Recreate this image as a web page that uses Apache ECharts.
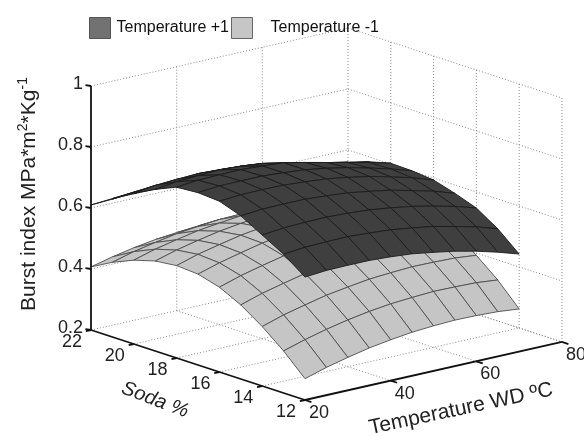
<!DOCTYPE html>
<html><head><meta charset="utf-8">
<style>html,body{margin:0;padding:0;background:#fff}#c{width:584px;height:437px}</style>
<script src="https://cdn.jsdelivr.net/npm/echarts@6/dist/echarts.min.js"></script>
</head><body><div id="c"></div>
<script>
const sodaValues=[22,21,20,19,18,17,16,15,14,13,12];
const tempValues=[20,25,30,35,40,45,50,55,60,65,70];
const tempPlus1=[
[.610,.615,.615,.614,.608,.601,.589,.576,.558,.539,.515],
[.652,.659,.663,.664,.661,.657,.648,.637,.622,.606,.585],
[.695,.704,.708,.711,.708,.704,.697,.682,.665,.652,.638],
[.730,.739,.743,.746,.742,.735,.720,.704,.689,.674,.662],
[.760,.767,.769,.770,.766,.761,.746,.730,.714,.698,.680],
[.765,.771,.772,.772,.767,.761,.750,.736,.719,.700,.678],
[.760,.765,.766,.765,.760,.754,.743,.730,.713,.694,.671],
[.735,.741,.742,.742,.737,.731,.720,.708,.691,.673,.650],
[.695,.702,.705,.706,.703,.698,.689,.678,.663,.646,.625],
[.655,.662,.664,.665,.661,.656,.646,.635,.619,.602,.580],
[.603,.609,.610,.610,.606,.600,.589,.577,.561,.542,.520]];
const tempMinus1=[
[.407,.424,.438,.449,.456,.462,.463,.462,.457,.451,.440],
[.445,.464,.478,.491,.499,.506,.508,.509,.505,.500,.490],
[.475,.495,.510,.524,.533,.541,.544,.546,.543,.539,.530],
[.495,.515,.531,.545,.555,.563,.567,.569,.567,.563,.555],
[.503,.524,.540,.555,.565,.574,.578,.581,.579,.576,.568],
[.498,.519,.536,.552,.563,.572,.577,.580,.580,.577,.570],
[.478,.500,.517,.533,.545,.555,.560,.564,.564,.561,.555],
[.443,.465,.482,.498,.510,.520,.525,.529,.529,.526,.520],
[.395,.417,.434,.450,.461,.471,.476,.480,.479,.477,.470],
[.338,.359,.377,.392,.404,.413,.418,.422,.421,.419,.412],
[.270,.291,.308,.323,.334,.343,.348,.351,.350,.347,.340]];
const burstTicks=[0.2,0.4,0.6,0.8,1];
const burstLabels=['0.2','0.4','0.6','0.8','1'];
const sodaTicks=[22,20,18,16,14,12];
const tempTicks=[20,40,60,80];

// Orthographic view of (soda, temperature, burst) onto the plane of the hidden axes
const ORIGIN=[91,330], SODA_STEP=[21.4,7], TEMP_STEP=[4.283,-0.967], BURST_STEP=305;
function project(s,t,z){
  return [ORIGIN[0]+(22-s)*SODA_STEP[0]+(t-20)*TEMP_STEP[0],
          ORIGIN[1]+(22-s)*SODA_STEP[1]+(t-20)*TEMP_STEP[1]-(z-0.2)*BURST_STEP];
}
function surface(name,table,fill,stroke){
  const cells=[];
  for(let i=0;i<sodaValues.length-1;i++)for(let j=tempValues.length-2;j>=0;j--)cells.push([i,j]);
  return {type:'custom',name,coordinateSystem:'cartesian2d',clip:false,silent:true,data:cells,
    renderItem(p,api){
      const c=cells[p.dataIndex],i=c[0],j=c[1];
      const pt=(a,b)=>api.coord(project(sodaValues[a],tempValues[b],table[a][b]));
      return {type:'polygon',shape:{points:[pt(i,j),pt(i+1,j),pt(i+1,j+1),pt(i,j+1)]},
        style:{fill,stroke,lineWidth:0.9,lineJoin:'round'}};
    }};
}
function segments(name,segs,stroke,lineWidth,dash){
  return {type:'custom',name,coordinateSystem:'cartesian2d',clip:false,silent:true,
    data:segs.map((_,k)=>[k,0]),
    renderItem(p,api){
      const g=segs[p.dataIndex],a=api.coord(project(g[0],g[1],g[2])),b=api.coord(project(g[3],g[4],g[5]));
      return {type:'line',shape:{x1:a[0],y1:a[1],x2:b[0],y2:b[1]},
        style:{stroke,lineWidth,lineDash:dash||null,fill:null}};
    }};
}
function labels(name,items,font){
  return {type:'custom',name,coordinateSystem:'cartesian2d',clip:false,silent:true,
    data:items.map((_,k)=>[k,0]),
    renderItem(p,api){
      const g=items[p.dataIndex],a=api.coord(project(g[0],g[1],g[2]));
      return {type:'text',x:a[0]+g[4],y:a[1]+g[5],
        style:{text:g[3],fill:'#222',font,align:g[6]||'center',verticalAlign:'middle'}};
    }};
}
const Z0=burstTicks[0],Z1=burstTicks[burstTicks.length-1];
const S0=sodaTicks[0],S1=sodaTicks[sodaTicks.length-1];
const T0=tempTicks[0],T1=tempTicks[tempTicks.length-1];
const grid=[];
burstTicks.forEach(z=>{ if(z>Z0){grid.push([S0,T0,z,S0,T1,z]);grid.push([S0,T1,z,S1,T1,z]);}});
burstTicks.filter(z=>z===Z0).forEach(z=>{grid.push([S0,T1,z,S1,T1,z]);grid.push([S0,T0,z,S0,T1,z]);});
tempTicks.forEach(t=>{ if(t>T0){grid.push([S0,t,Z0,S0,t,Z1]);grid.push([S0,t,Z0,S1,t,Z0]);}});
sodaTicks.forEach(s=>{ if(s<S0){grid.push([s,T1,Z0,s,T1,Z1]);grid.push([s,T0,Z0,s,T1,Z0]);}});
const axes=[[S0,T0,Z0,S0,T0,Z1],[S0,T0,Z0,S1,T0,Z0],[S1,T0,Z0,S1,T1,Z0]];
burstTicks.forEach(z=>axes.push([S0,T0,z,S0+0.18,T0-0.4,z]));
sodaTicks.forEach(s=>axes.push([s,T0,Z0,s,T0-1.2,Z0]));
tempTicks.forEach(t=>axes.push([S1,t,Z0,S1-0.3,t,Z0]));
const tickText=[];
burstTicks.forEach((z,k)=>tickText.push([S0,T0,z,burstLabels[k],-8,-2,'right']));
sodaTicks.forEach(s=>tickText.push([s,T0,Z0,String(s),-19,12]));
tempTicks.forEach(t=>tickText.push([S1,t,Z0,String(t),14,13]));

const chart=echarts.init(document.getElementById('c'),null,{renderer:'canvas'});
const legendText={fontFamily:'Liberation Sans',fontSize:16,color:'#111'};
chart.setOption({
  animation:false,backgroundColor:'#fff',
  grid:{left:0,right:0,top:0,bottom:0},
  xAxis:{type:'value',min:0,max:584,show:false},
  yAxis:{type:'value',min:0,max:437,inverse:true,show:false},
  legend:[
    {left:84,top:12,icon:'rect',itemWidth:21,itemHeight:21,itemGap:0,selectedMode:false,
     textStyle:Object.assign({},legendText,{padding:[0,0,0,1]}),
     data:[{name:'Temperature +1',itemStyle:{color:'#727272',borderColor:'#555',borderWidth:1}}]},
    {left:226,top:12,icon:'rect',itemWidth:21,itemHeight:21,itemGap:0,selectedMode:false,
     textStyle:Object.assign({},legendText,{padding:[0,0,0,13]}),
     data:[{name:'Temperature -1',itemStyle:{color:'#c6c6c6',borderColor:'#666',borderWidth:1}}]}
  ],
  series:[
    segments('grid',grid,'#8a8a8a',1,[1,2]),
    surface('Temperature -1',tempMinus1,'#c5c5c5','#4e4e4e'),
    surface('Temperature +1',tempPlus1,'#3f3f3f','#1c1c1c'),
    segments('axes',axes,'#111',1.8),
    labels('ticks',tickText,'18px "Liberation Sans"')
  ],
  graphic:[
    {type:'text',x:29,y:194,rotation:Math.PI/2,originX:0,originY:0,
     style:{text:'Burst index MPa*m{s|2}*Kg{s|-1}',x:0,y:0,align:'center',verticalAlign:'middle',
       fill:'#222',font:'21px "Liberation Sans"',
       rich:{s:{fontSize:14,fontFamily:'Liberation Sans',fill:'#222',verticalAlign:'top',lineHeight:26}}}},
    {type:'text',x:155,y:400,rotation:-0.36,
     style:{text:'Soda %',x:0,y:0,align:'center',verticalAlign:'middle',fill:'#222',
       font:'italic 20px "Liberation Sans"'}},
    {type:'text',x:461,y:409,rotation:0.21,
     style:{text:'Temperature WD ºC',x:0,y:0,align:'center',verticalAlign:'middle',fill:'#222',
       font:'21px "Liberation Sans"'}}
  ]
});
</script></body></html>
